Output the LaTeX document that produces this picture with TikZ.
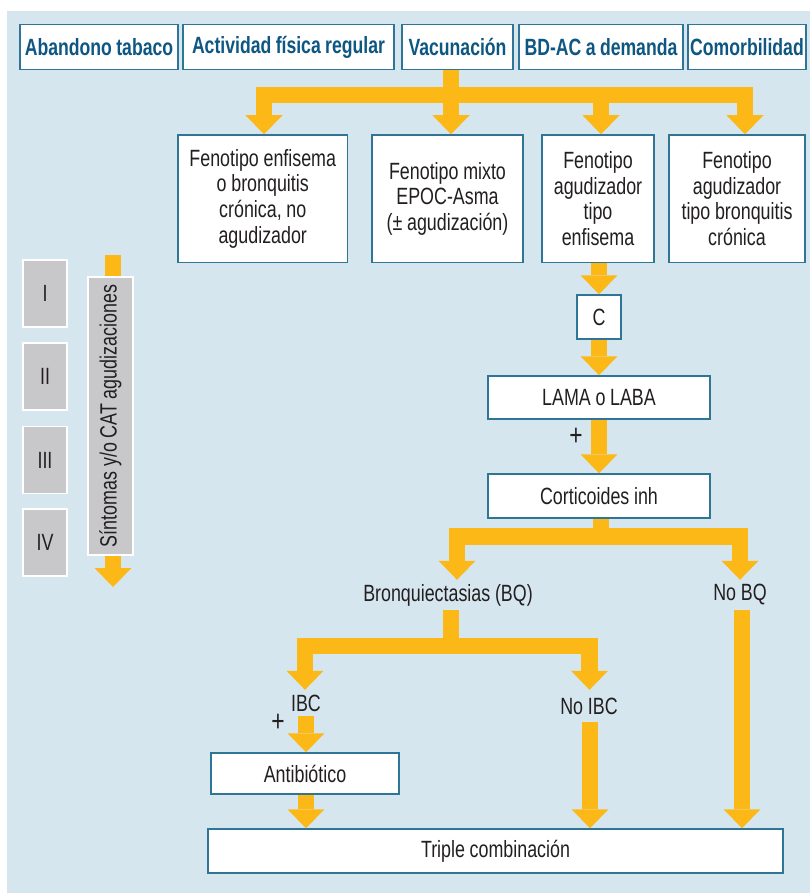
\documentclass[tikz,border=0pt]{standalone}
\usepackage{fontspec}
\setmainfont{Liberation Sans}[FakeStretch=0.76, WordSpace=0.95]
\newfontfamily\headfont{Liberation Sans}[FakeStretch=0.75, WordSpace=0.9]
\usetikzlibrary{arrows.meta}
\definecolor{bgblue}{HTML}{D6E6EF}
\definecolor{boxline}{HTML}{2F7596}
\definecolor{headblue}{HTML}{0D5782}
\definecolor{flow}{HTML}{FBB817}
\definecolor{greybox}{HTML}{C8C8CA}
\definecolor{ink}{HTML}{231F20}
\begin{document}
\begin{tikzpicture}[x=1pt,y=-1pt,
  every node/.style={font=\fontsize{23.5}{25.7}\selectfont, text=ink, inner sep=0pt},
  whitebox/.style={draw=boxline, line width=1.5pt, fill=white, align=flush center},
  headbox/.style={whitebox, font=\headfont\bfseries\fontsize{23.5}{26}\selectfont, text=headblue, minimum height=45pt},
  greycell/.style={draw=white, line width=1.5pt, fill=greybox, minimum width=44pt, minimum height=67pt},
  label/.style={align=center},
  plussign/.style={font=\fontsize{30}{30}\selectfont},
  ybar/.style={draw=flow, line width=16.5pt},
  yarrow/.style={draw=flow, line width=16.5pt, line join=miter,
    -{Triangle[width=37pt,length=19pt,line width=0pt 0 0]}}
]
\useasboundingbox (0,0) rectangle (810,893);
\fill[bgblue] (7,11) rectangle (810,893);

% general measures
\node[headbox, minimum width=158pt] (ab)  at (99,47)    {Abandono tabaco};
\node[headbox, minimum width=211pt] (act) at (288.5,47) {Actividad física regular};
\node[headbox, minimum width=111pt] (vac) at (457.5,47) {Vacunación};
\node[headbox, minimum width=164pt] (bd)  at (601,47)   {BD-AC a demanda};
\node[headbox, minimum width=118pt] (com) at (747,47)   {Comorbilidad};

% phenotypes
\node[whitebox, minimum width=169.5pt, minimum height=127.5pt, text width=165pt] (p1) at (262.75,198.75)
  {Fenotipo enfisema\\o bronquitis\\crónica, no\\agudizador};
\node[whitebox, minimum width=151pt, minimum height=127.5pt, text width=147pt] (p2) at (447.5,198.75)
  {Fenotipo mixto\\EPOC-Asma\\(± agudización)};
\node[whitebox, minimum width=112pt, minimum height=127.5pt, text width=108pt] (p3) at (598,198.75)
  {Fenotipo\\agudizador\\tipo\\enfisema};
\node[whitebox, minimum width=136pt, minimum height=127.5pt, text width=134pt] (p4) at (737,198.75)
  {Fenotipo\\agudizador\\tipo bronquitis\\crónica};

% treatment column
\node[whitebox, minimum width=44pt, minimum height=44pt] (c) at (599,317) {C};
\node[whitebox, minimum width=222pt, minimum height=43pt] (lama) at (599,397.5) {LAMA o LABA};
\node[whitebox, minimum width=222pt, minimum height=44pt] (cort) at (599,496) {Corticoides inh};
\node[plussign] (plus1) at (576,437) {+};

\node[label, minimum height=30pt] (bq)   at (448,595) {Bronquiectasias (BQ)};
\node[label, minimum height=30pt] (nobq) at (740,595) {No BQ};
\node[label, minimum height=26pt] (ibc)   at (306,703) {IBC};
\node[label, minimum height=32pt] (noibc) at (589,706) {No IBC};
\node[plussign] (plus2) at (278,723) {+};

\node[whitebox, minimum width=188pt, minimum height=41pt] (ant) at (305,773.5) {Antibiótico};
\node[whitebox, minimum width=575pt, minimum height=44pt] (tri) at (495.5,851) {Triple combinación};

% severity scale
\coordinate (sevtop) at (113,255);
\coordinate (sevend) at (113,587);
\draw[yarrow] (sevtop) -- (sevend);
\node[greycell] (g1) at (45,293.5) {I};
\node[greycell] (g2) at (45,376.5) {II};
\node[greycell] (g3) at (45,460)   {III};
\node[greycell] (g4) at (45,542.5) {IV};
\node[draw=white, line width=1.5pt, fill=greybox, rotate=90, minimum width=278pt, minimum height=45pt]
  (sev) at (110.5,416) {Síntomas y/o CAT agudizaciones};

% flow from general measures to phenotypes
\coordinate (hub) at (451,95);
\draw[yarrow] (vac.south -| hub) -- (hub |- p2.north);
\draw[yarrow] (hub) -| (264,0 |- p1.north);
\draw[yarrow] (hub) -| (745,0 |- p4.north);
\draw[yarrow] (601,95) -- (601,0 |- p3.north);

% flow down the treatment column
\draw[yarrow] (c.north |- p3.south) -- (c.north);
\draw[yarrow] (c.south) -- (c.south |- lama.north);
\draw[yarrow] (lama.south) -- (cort.north);

% split after inhaled corticoids
\coordinate (split1) at (601,536.5);
\draw[ybar] (cort.south -| split1) -- (split1);
\draw[yarrow] (split1) -| (457,0 |- bq.north);
\draw[yarrow] (split1) -| (740,0 |- nobq.north);

% split after bronchiectasis
\coordinate (split2) at (451,646);
\draw[ybar] (bq.south -| split2) -- (split2);
\draw[yarrow] (split2) -| (305,0 |- ibc.north);
\draw[yarrow] (split2) -| (589.5,0 |- noibc.north);

% into triple combination
\draw[yarrow] (306,0 |- ibc.south) -- (306,0 |- ant.north);
\draw[yarrow] (306,0 |- ant.south) -- (306,0 |- tri.north);
\draw[yarrow] (590,0 |- noibc.south) -- (590,0 |- tri.north);
\draw[yarrow] (742,0 |- nobq.south) -- (742,0 |- tri.north);
\end{tikzpicture}
\end{document}
